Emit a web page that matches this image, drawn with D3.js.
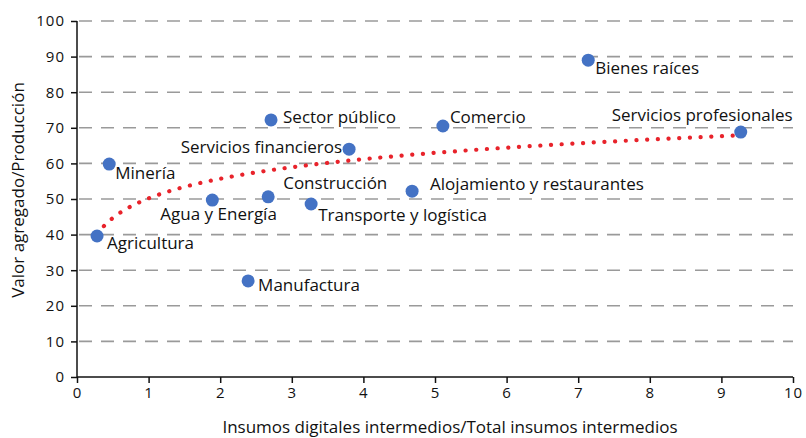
<!DOCTYPE html>
<html>
<head>
<meta charset="utf-8">
<script src="https://cdn.jsdelivr.net/npm/d3@7"></script>
<style>
  body { margin: 0; background: #fff; }
  svg text { font-family: "Open Sans", sans-serif; fill: #111; }
  .grid line { stroke: #9a9a9a; stroke-width: 1.6; stroke-dasharray: 13 9; }
  .axis path, .axis line { stroke: #111; stroke-width: 1.5; }
  .axis text { font-size: 15px; letter-spacing: 1px; }
  .lbl { font-size: 17px; }
  .dot { fill: #4472c4; }
  .trend { fill: none; stroke: #e8232b; stroke-width: 4.2; stroke-linecap: round; stroke-dasharray: 0.1 10.6; }
</style>
</head>
<body>
<svg id="chart" width="806" height="438"></svg>
<script>
// sectors, x = digital inputs share, y = value added / output
var sectors = ["Agricultura", "Minería", "Agua y Energía", "Manufactura", "Construcción",
               "Sector público", "Transporte y logística", "Servicios financieros",
               "Alojamiento y restaurantes", "Comercio", "Bienes raíces", "Servicios profesionales"];
var digitalShare = [0.28, 0.45, 1.89, 2.39, 2.67, 2.71, 3.27, 3.80, 4.68, 5.11, 7.14, 9.27];
var valueAdded   = [39.6, 59.8, 49.7, 27.0, 50.6, 72.2, 48.6, 64.0, 52.2, 70.5, 89.0, 68.8];
var xTicks = [0, 1, 2, 3, 4, 5, 6, 7, 8, 9, 10];
var yTicks = [0, 10, 20, 30, 40, 50, 60, 70, 80, 90, 100];

// where each label sits relative to its dot (px): [dx, dy, anchor]
var labelPlace = [
  [10, 7, "start"], [6, 9, "start"], [-52, 14, "start"], [10, 4, "start"],
  [15, -14, "start"], [12, -3, "start"], [7, 11, "start"], [-7, -2, "end"],
  [18, -7, "start"], [7, -9, "start"], [7, 8, "start"], [52, -17, "end"]
];

var svg = d3.select("#chart"),
    margin = {left: 77, right: 13, top: 21, bottom: 61},
    width = 806 - margin.left - margin.right,
    height = 438 - margin.top - margin.bottom;

var x = d3.scaleLinear().domain([0, 10]).range([0, 716]);
var y = d3.scaleLinear().domain([0, 100]).range([height, 0]);

var g = svg.append("g").attr("transform", "translate(" + margin.left + "," + margin.top + ")");

// dashed gridlines
g.append("g").attr("class", "grid")
  .selectAll("line").data(yTicks.slice(1)).enter().append("line")
  .attr("x1", 2).attr("x2", width)
  .attr("y1", function(d) { return y(d); }).attr("y2", function(d) { return y(d); });

// axes
var xAxis = g.append("g").attr("class", "axis")
  .attr("transform", "translate(0," + height + ")")
  .call(d3.axisBottom(x).tickValues(xTicks).tickSize(6).tickPadding(4).tickFormat(d3.format("d")));
var yAxis = g.append("g").attr("class", "axis")
  .call(d3.axisLeft(y).tickValues(yTicks).tickSize(6).tickPadding(6).tickFormat(d3.format("d")));
xAxis.select(".domain").attr("d", "M0,0H716");
yAxis.select(".domain").attr("d", "M0," + height + "V0");

// log trend line fitted to the points (least squares on ln x)
var pts = sectors.map(function(s, i) { return {name: s, x: digitalShare[i], y: valueAdded[i], i: i}; });
var lx = pts.map(function(p) { return Math.log(p.x); });
var mL = d3.mean(lx), mY = d3.mean(valueAdded);
var b = d3.sum(pts, function(p, i) { return (lx[i] - mL) * (p.y - mY); }) /
        d3.sum(lx, function(l) { return (l - mL) * (l - mL); });
var a = mY - b * mL;
var xs = d3.range(120).map(function(k) {
  var lo = d3.min(digitalShare), hi = d3.max(digitalShare);
  return lo + (hi - lo) * k / 119;
});
g.append("path").attr("class", "trend")
  .attr("d", d3.line()
    .x(function(v) { return x(v); })
    .y(function(v) { return y(a + b * Math.log(v)); })(xs));

// points
g.selectAll(".dot").data(pts).enter().append("circle")
  .attr("class", "dot").attr("r", 6.5)
  .attr("cx", function(d) { return x(d.x); })
  .attr("cy", function(d) { return y(d.y); });

// labels
g.selectAll(".lbl").data(pts).enter().append("text")
  .attr("class", "lbl")
  .attr("x", function(d) { return x(d.x) + labelPlace[d.i][0]; })
  .attr("y", function(d) { return y(d.y) + labelPlace[d.i][1]; })
  .attr("dy", "0.35em")
  .attr("text-anchor", function(d) { return labelPlace[d.i][2]; })
  .text(function(d) { return d.name; });

// axis titles
svg.append("text").attr("class", "lbl")
  .attr("x", 450).attr("y", 433).attr("text-anchor", "middle")
  .text("Insumos digitales intermedios/Total insumos intermedios");
svg.append("text").attr("class", "lbl")
  .attr("transform", "translate(24,190) rotate(-90)").attr("text-anchor", "middle")
  .text("Valor agregado/Producción");
</script>
</body>
</html>
